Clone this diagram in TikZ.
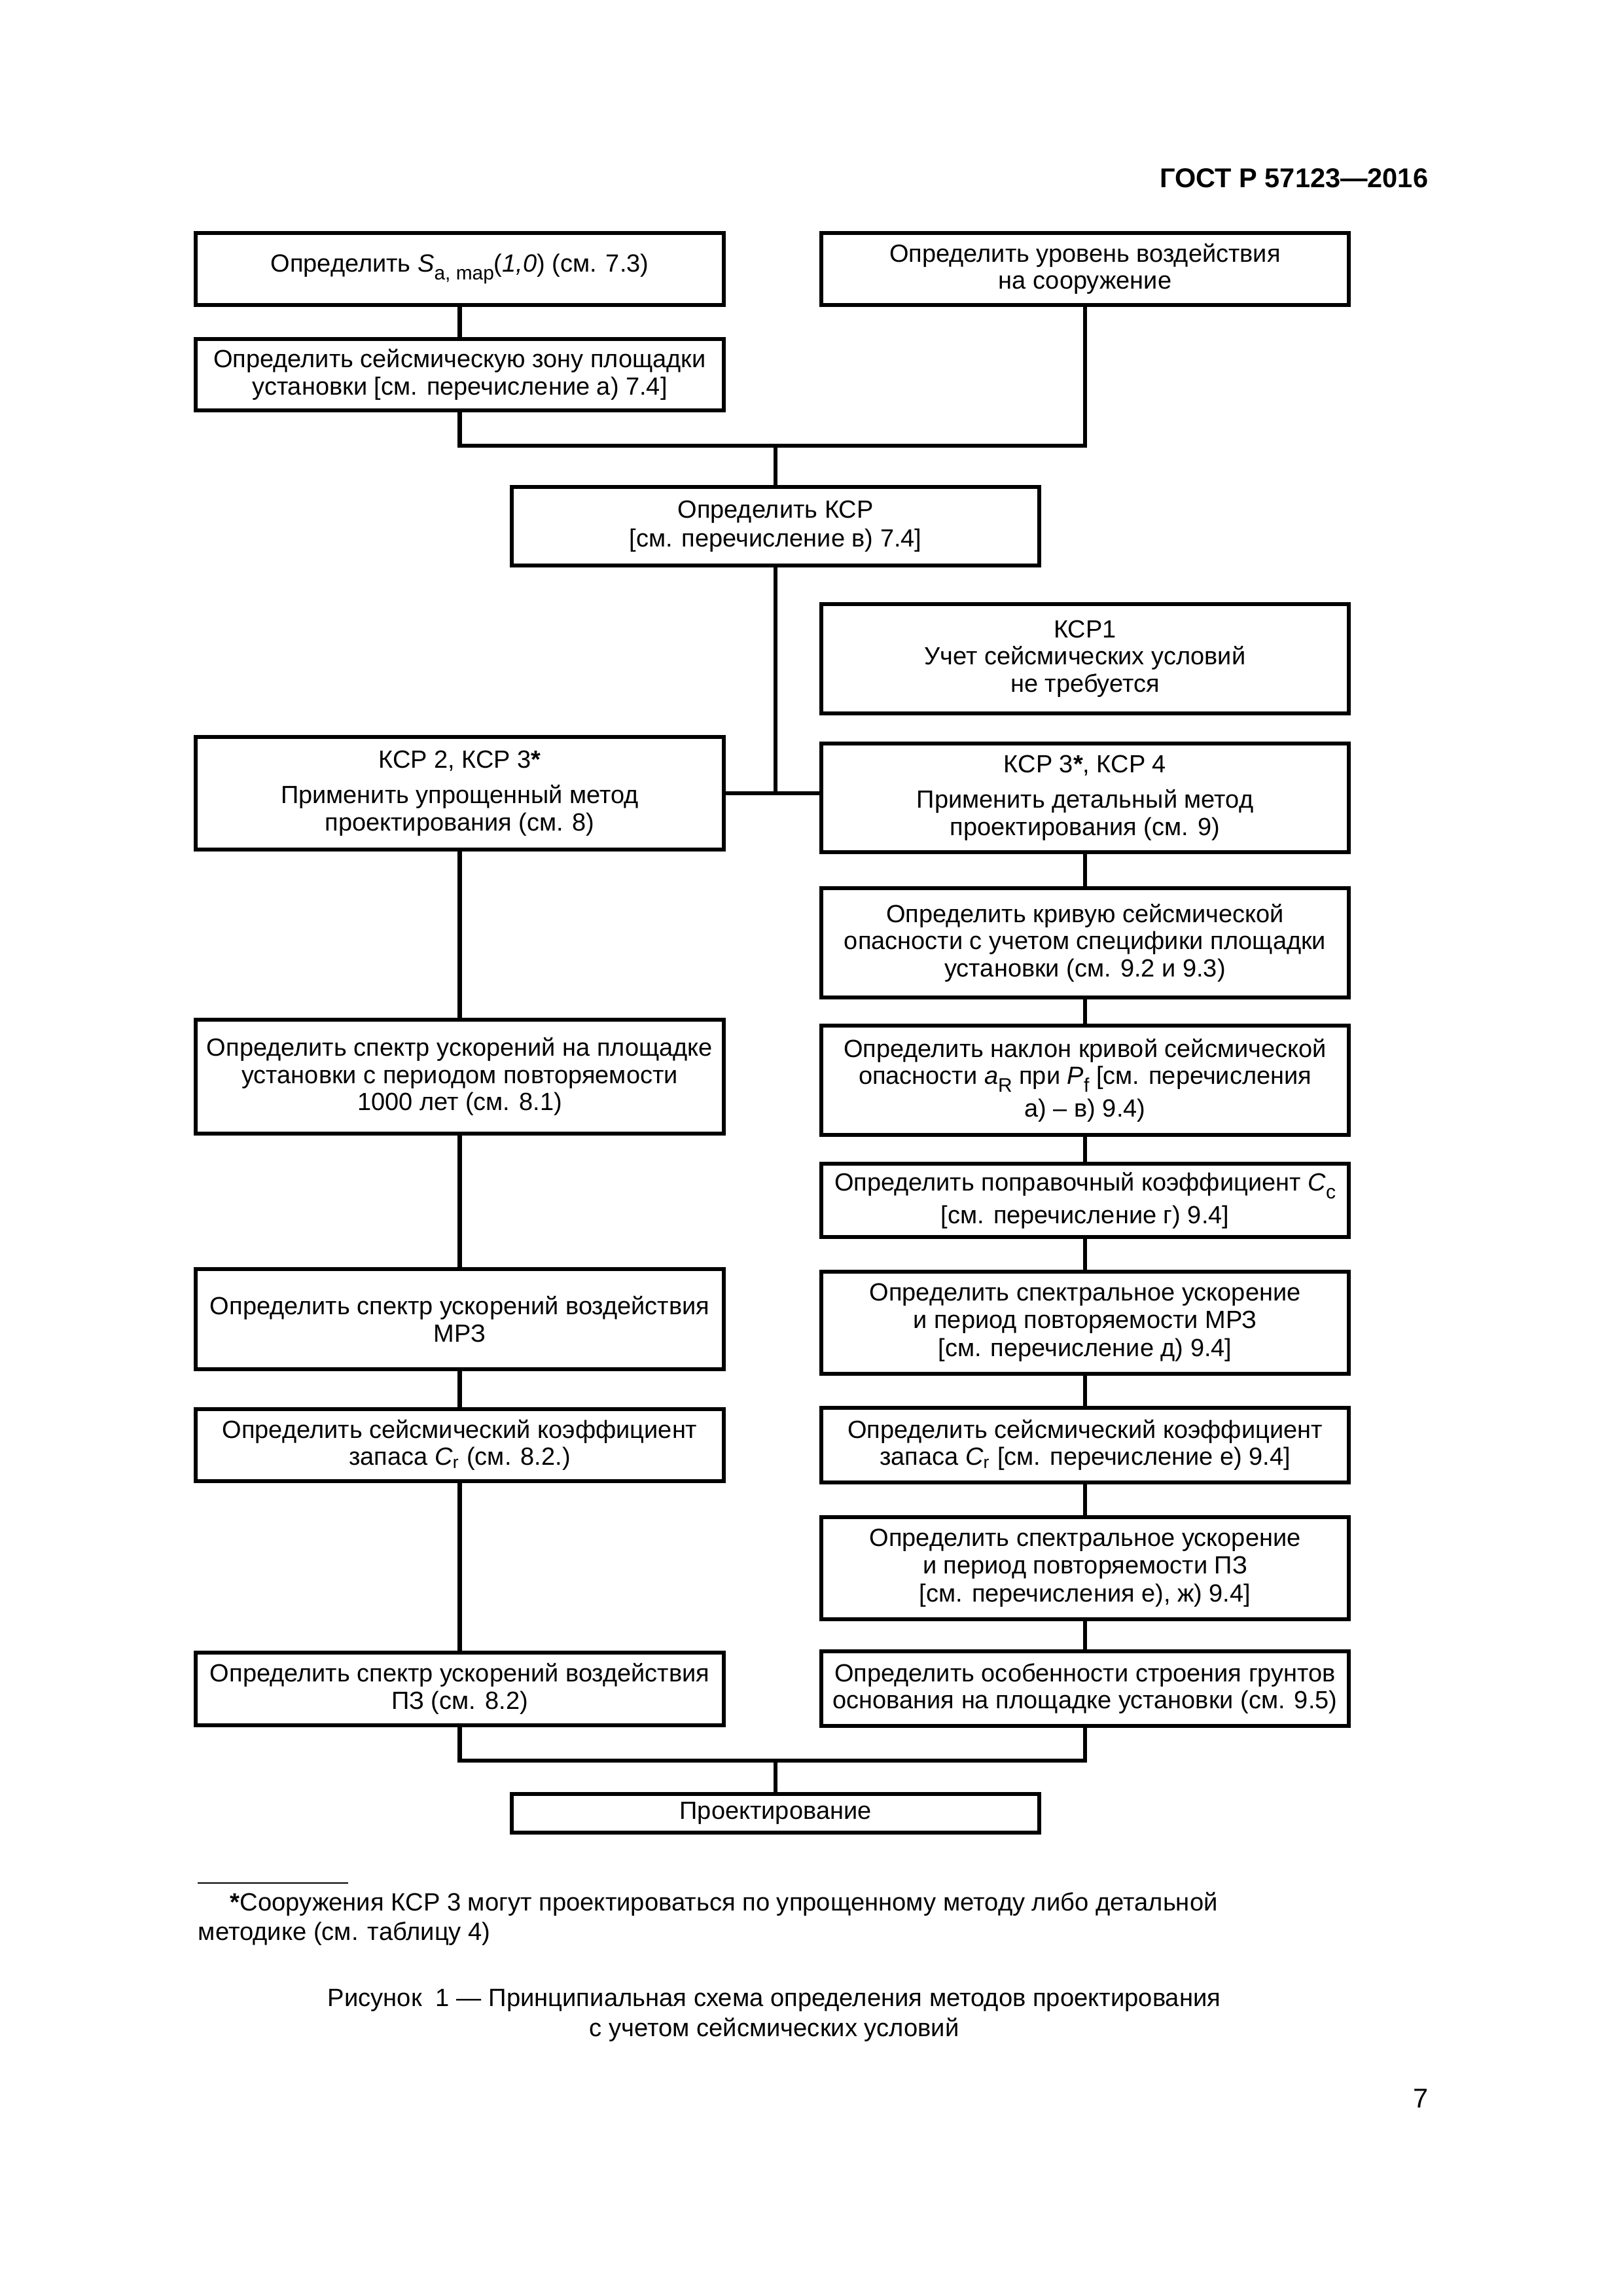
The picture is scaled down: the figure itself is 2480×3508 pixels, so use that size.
\documentclass[tikz,border=0pt]{standalone}
\usepackage{fontspec}
\setmainfont{Liberation Sans}
\newcommand\sbs[1]{\raisebox{-0.32em}{\fontsize{7.2}{8}\selectfont #1}}
\begin{document}
\begin{tikzpicture}[x=0.2409pt,y=-0.2409pt,
  bx/.style={draw, line width=1.45pt, minimum width=194.2pt, inner sep=0pt, align=center,
    font=\fontsize{9.15}{10}\selectfont},
  ln/.style={line width=1.45pt, line join=miter},
  txt/.style={inner sep=0pt, font=\fontsize{9.2}{11}\selectfont}]
\useasboundingbox (0,0) rectangle (2480,3508);
% header and page number
\node[txt, anchor=base east, font=\bfseries\fontsize{10}{12}\selectfont] (hdr) at (2183,286) {ГОСТ Р 57123—2016};
\node[txt, anchor=base east, font=\fontsize{10}{12}\selectfont] (pg) at (2183,3220) {7};
% boxes
\node[bx, minimum height=26.5pt] (a) at (702.5,411) {Определить \textit{S}\sbs{a, map}(\textit{1,0}) (см. 7.3)};
\node[bx, minimum height=26.5pt] (b) at (1658,411) {Определить уровень воздействия\\на сооружение};
\node[bx, minimum height=26.3pt] (c) at (702.5,572.5) {Определить сейсмическую зону площадки\\установки [см. перечисление а) 7.4]};
\node[bx, minimum height=28.9pt] (d) at (1185,804) {Определить КСР\\[0.5pt][см. перечисление в) 7.4]};
\node[bx, minimum height=40.2pt] (e) at (1658,1006.5) {КСР1\\Учет сейсмических условий\\не требуется};
\node[bx, minimum height=41.4pt] (f) at (702.5,1212) {КСР 2, КСР 3\textbf{*}\\[3pt]Применить упрощенный метод\\проектирования (см. 8)};
\node[bx, minimum height=40.0pt] (g) at (1658,1219) {КСР 3\textbf{*}, КСР 4\\[3pt]Применить детальный метод\\проектирования (см. 9)};
\node[bx, minimum height=40.2pt] (h) at (1658,1440.5) {Определить кривую сейсмической\\опасности с учетом специфики площадки\\установки (см. 9.2 и 9.3)};
\node[bx, minimum height=41.9pt] (i) at (702.5,1645) {Определить спектр ускорений на площадке\\установки с периодом повторяемости\\1000 лет (см. 8.1)};
\node[bx, minimum height=40.2pt] (j) at (1658,1650.5) {Определить наклон кривой сейсмической\\опасности \textit{a}\sbs{R} при \textit{P}\sbs{f} [см. перечисления\\[2pt]а) – в) 9.4)};
\node[bx, minimum height=27.0pt] (k) at (1658,1834) {Определить поправочный коэффициент \textit{C}\sbs{c}\\[2pt][см. перечисление г) 9.4]};
\node[bx, minimum height=36.9pt] (l) at (702.5,2015.5) {Определить спектр ускорений воздействия\\МРЗ};
\node[bx, minimum height=37.6pt] (m) at (1658,2021) {Определить спектральное ускорение\\и период повторяемости МРЗ\\[0.5pt][см. перечисление д) 9.4]};
\node[bx, minimum height=26.5pt] (n) at (702.5,2208) {Определить сейсмический коэффициент\\запаса \textit{C}\textsubscript{r} (см. 8.2.)};
\node[bx, minimum height=27.5pt] (o) at (1658,2208) {Определить сейсмический коэффициент\\запаса \textit{C}\textsubscript{r} [см. перечисление е) 9.4]};
\node[bx, minimum height=37.6pt] (p) at (1658,2396) {Определить спектральное ускорение\\и период повторяемости ПЗ\\[0.5pt][см. перечисления е), ж) 9.4]};
\node[bx, minimum height=26.7pt] (q) at (702.5,2580.5) {Определить спектр ускорений воздействия\\ПЗ (см. 8.2)};
\node[bx, minimum height=27.5pt] (r) at (1658,2580) {Определить особенности строения грунтов\\основания на площадке установки (см. 9.5)};
\node[bx, minimum height=14.2pt] (s) at (1185,2770.5) {Проектирование};
% junctions
\coordinate (j1) at (1185,681);
\coordinate (j3) at (1185,2690);
% connectors
\draw[ln] (a) -- (c);
\draw[ln] (c.south) |- (j1) -| (b.south);
\draw[ln] (j1) -- (d.north);
\draw[ln] (d.south) -- (d.south |- f.east);
\draw[ln] (f.east) -- (f.east -| g.west);
\draw[ln] (f) -- (i);
\draw[ln] (i) -- (l);
\draw[ln] (l) -- (n);
\draw[ln] (n) -- (q);
\draw[ln] (g) -- (h);
\draw[ln] (h) -- (j);
\draw[ln] (j) -- (k);
\draw[ln] (k) -- (m);
\draw[ln] (m) -- (o);
\draw[ln] (o) -- (p);
\draw[ln] (p) -- (r);
\draw[ln] (q.south) |- (j3) -| (r.south);
\draw[ln] (j3) -- (s.north);
% footnote
\draw[line width=0.7pt] (302,2877) -- (532,2877);
\node[txt, anchor=base west] (fn1) at (351,2919) {\textbf{*}Сооружения КСР 3 могут проектироваться по упрощенному методу либо детальной};
\node[txt, anchor=base west] (fn2) at (302,2964) {методике (см. таблицу 4)};
% caption
\node[txt, anchor=base] (cap1) at (1183,3065) {Рисунок\ \ 1 — Принципиальная схема определения методов проектирования};
\node[txt, anchor=base] (cap2) at (1183,3111) {с учетом сейсмических условий};
\end{tikzpicture}
\end{document}
